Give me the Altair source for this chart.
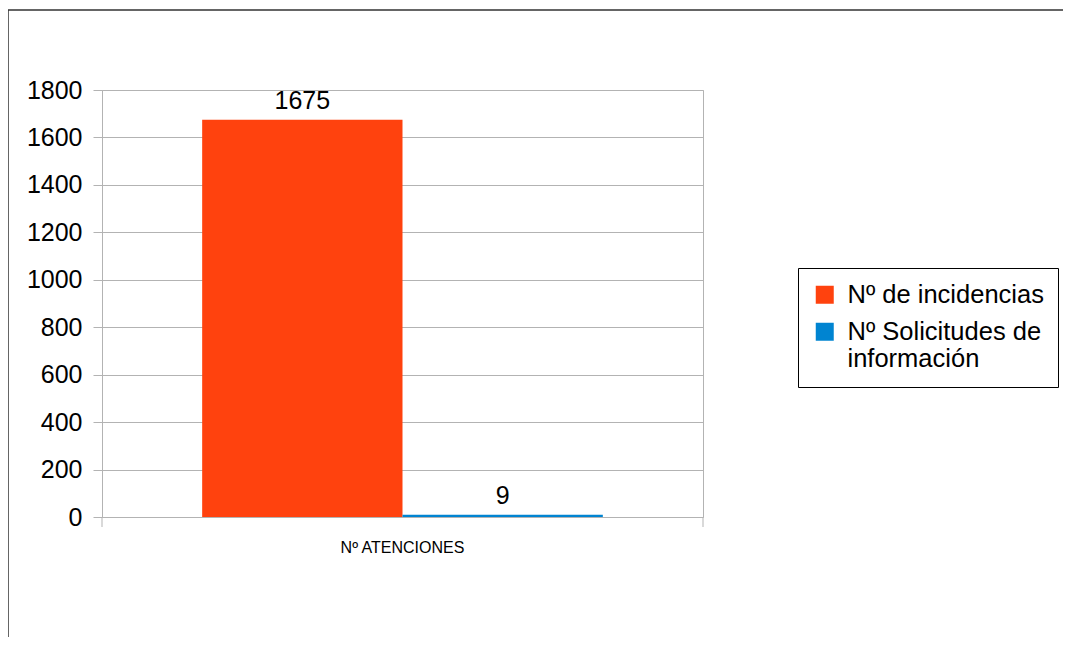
import altair as alt
import pandas as pd

categorias = ["Nº ATENCIONES"]
series = ["Nº de incidencias", "Nº Solicitudes de información"]
valores = [1675, 9]
colores = ["#ff420e", "#0084d1"]
y_ticks = [0, 200, 400, 600, 800, 1000, 1200, 1400, 1600, 1800]

df = pd.DataFrame({
    "cat": [categorias[0]] * len(series),
    "serie": series,
    "valor": valores,
})

FONT = "Liberation Sans"
GRID = "#b3b3b3"
FS = 25

base = alt.Chart(df).encode(
    x=alt.X(
        "cat:N",
        scale=alt.Scale(paddingOuter=0.25, paddingInner=0),
        axis=alt.Axis(title=None, labelAngle=0, ticks=False, domain=False,
                      labelFontSize=16, labelPadding=22, labelColor="#000",
                      labelFont=FONT),
    ),
    xOffset=alt.XOffset("serie:N", sort=series,
                        scale=alt.Scale(paddingInner=0, paddingOuter=0)),
)

bars = base.mark_bar().encode(
    y=alt.Y(
        "valor:Q",
        scale=alt.Scale(domain=[0, 1800], nice=False),
        axis=alt.Axis(title=None, values=y_ticks, format="d", grid=True,
                      gridColor=GRID, tickColor=GRID, tickSize=9,
                      domainColor=GRID, labelFontSize=FS, labelColor="#000",
                      labelPadding=11, labelFont=FONT),
    ),
    color=alt.Color(
        "serie:N",
        sort=series,
        scale=alt.Scale(domain=series, range=colores),
        legend=alt.Legend(
            title=None, orient="none", legendX=696, legendY=178,
            symbolType="square", symbolSize=324, symbolStrokeWidth=0,
            labelFontSize=25.5, labelFont=FONT, labelColor="#000",
            labelOffset=10, labelLimit=400, rowPadding=10,
            padding=14, strokeColor="#000", fillColor="#fff",
            labelExpr="datum.label == 'Nº Solicitudes de información' ? ['Nº Solicitudes de', 'información'] : datum.label",
        ),
    ),
)

labels = base.mark_text(baseline="bottom", dy=-6, fontSize=FS, font=FONT,
                        color="#000").encode(
    y="valor:Q",
    text="valor:Q",
)

deco = alt.Chart(alt.Data(values=[{"k": 0}]))
tick_ext = deco.mark_rule(color=GRID, strokeWidth=1).encode(
    x=alt.value(0), y=alt.value(427), y2=alt.value(437)
)
tick_ext2 = deco.mark_rule(color=GRID, strokeWidth=1).encode(
    x=alt.value(601), y=alt.value(427), y2=alt.value(437)
)
frame = deco.mark_rect(filled=False, stroke="#333", strokeWidth=1.5).encode(
    x=alt.value(-94), y=alt.value(-80), x2=alt.value(1100), y2=alt.value(700)
)

chart = alt.layer(frame, tick_ext, tick_ext2, bars, labels).properties(
    width=601,
    height=427,
    autosize=alt.AutoSizeParams(type="none"),
    padding={"left": 94, "top": 82, "right": 360, "bottom": 120},
    background="#ffffff",
).configure_view(stroke=GRID, strokeWidth=1)

chart.save("out.html", embed_options={"renderer": "svg", "actions": False})
